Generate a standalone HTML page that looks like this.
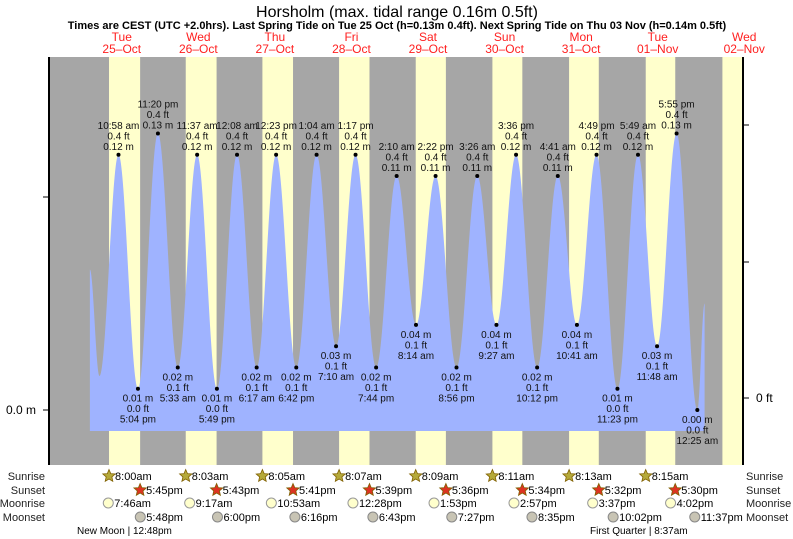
<!DOCTYPE html>
<html><head><meta charset="utf-8"><style>
body{margin:0;background:#fff;}
svg{display:block;font-family:"Liberation Sans",sans-serif;}
</style></head><body>
<svg id="chart" width="793" height="539" viewBox="0 0 793 539">
<text x="397" y="17" text-anchor="middle" font-size="16">Horsholm (max. tidal range 0.16m 0.5ft)</text>
<text x="397" y="29" text-anchor="middle" font-size="11" font-weight="bold">Times are CEST (UTC +2.0hrs). Last Spring Tide on Tue 25 Oct (h=0.13m 0.4ft). Next Spring Tide on Thu 03 Nov (h=0.14m 0.5ft)</text>
<g id="bg"></g><g id="tide"></g><g id="labels"></g><g id="axes"></g><g id="bottom"></g>
</svg>
<script>
const dayNames=["Tue","Wed","Thu","Fri","Sat","Sun","Mon","Tue","Wed"];
const dayDates=["25\u2013Oct","26\u2013Oct","27\u2013Oct","28\u2013Oct","29\u2013Oct","30\u2013Oct","31\u2013Oct","01\u2013Nov","02\u2013Nov"];
const sunriseH=[8.0,8.05,8.083,8.117,8.15,8.183,8.217,8.25,8.283];
const sunsetH=[17.75,17.717,17.683,17.65,17.6,17.567,17.533,17.5,17.467];
const sunriseTxt=["8:00am","8:03am","8:05am","8:07am","8:09am","8:11am","8:13am","8:15am"];
const sunsetTxt=["5:45pm","5:43pm","5:41pm","5:39pm","5:36pm","5:34pm","5:32pm","5:30pm"];
const moonriseH=[7.767,9.283,10.883,12.467,13.883,14.95,15.617,16.033];
const moonriseTxt=["7:46am","9:17am","10:53am","12:28pm","1:53pm","2:57pm","3:37pm","4:02pm"];
const moonsetH=[17.8,18.0,18.267,18.717,19.45,20.583,22.033,23.617];
const moonsetTxt=["5:48pm","6:00pm","6:16pm","6:43pm","7:27pm","8:35pm","10:02pm","11:37pm"];
// tide extremes: hours since Tue 00:00, height m
const tideT=[2.0,5.0,10.97,17.07,23.33,29.55,35.62,41.82,48.13,54.28,60.38,66.7,73.07,79.17,85.28,91.73,98.17,104.23,110.37,116.93,123.43,129.45,135.6,142.2,148.68,154.68,160.82,167.38,173.82,179.8,185.92,192.42,194.7];
const tideH=[0.066,0.016,0.12,0.01,0.13,0.02,0.12,0.01,0.12,0.02,0.12,0.02,0.12,0.03,0.12,0.02,0.11,0.04,0.11,0.02,0.11,0.04,0.12,0.02,0.11,0.04,0.12,0.01,0.12,0.03,0.13,0.0,0.05];
const tideTimeTxt=[null,null,"10:58 am","5:04 pm","11:20 pm","5:33 am","11:37 am","5:49 pm","12:08 am","6:17 am","12:23 pm","6:42 pm","1:04 am","7:10 am","1:17 pm","7:44 pm","2:10 am","8:14 am","2:22 pm","8:56 pm","3:26 am","9:27 am","3:36 pm","10:12 pm","4:41 am","10:41 am","4:49 pm","11:23 pm","5:49 am","11:48 am","5:55 pm","12:25 am",null];
const tideFtTxt=[null,null,"0.4 ft","0.0 ft","0.4 ft","0.1 ft","0.4 ft","0.0 ft","0.4 ft","0.1 ft","0.4 ft","0.1 ft","0.4 ft","0.1 ft","0.4 ft","0.1 ft","0.4 ft","0.1 ft","0.4 ft","0.1 ft","0.4 ft","0.1 ft","0.4 ft","0.1 ft","0.4 ft","0.1 ft","0.4 ft","0.0 ft","0.4 ft","0.1 ft","0.4 ft","0.0 ft",null];

const NS="http://www.w3.org/2000/svg";
const X0=83.5,PXH=3.19;
const x=t=>X0+t*PXH;
const y=h=>410-h*2127;
const PT=57,PB=465,PL=49,PR=743;
function mk(tag,attrs,parent,txt){const e=document.createElementNS(NS,tag);for(const k in attrs)e.setAttribute(k,attrs[k]);if(txt!=null)e.textContent=txt;parent.appendChild(e);return e;}
const bg=document.getElementById('bg'),tide=document.getElementById('tide'),lab=document.getElementById('labels'),ax=document.getElementById('axes'),bot=document.getElementById('bottom');

let r=mk('rect',{x:PL,y:PT,width:PR-PL,height:PB-PT,fill:'#a6a6a6'},bg);


for(let d=0;d<9;d++){
  const x1=x(d*24+sunriseH[d]),x2=Math.min(x(d*24+sunsetH[d]),PR);
  const b=mk('rect',{x:x1,y:PT,width:Math.max(0,x2-x1),height:PB-PT,fill:'#ffffcc'},bg);
  
  
  const cx=x(d*24+12)+(d==8?10:0);
  const t1=mk('text',{x:cx,y:41,'text-anchor':'middle','font-size':12,fill:'#ff2020'},bg,dayNames[d]);
  
  
  const t2=mk('text',{x:cx,y:53,'text-anchor':'middle','font-size':12,fill:'#ff2020'},bg,dayDates[d]);
  
  
}
// tide curve
function shape(u){return 0.5-0.5*Math.cos(Math.PI*u);}
let d='M'+x(tideT[0])+' 431';
for(let i=0;i<tideT.length-1;i++){
  const t0=tideT[i],t1=tideT[i+1],h0=tideH[i],h1=tideH[i+1];
  for(let k=0;k<=40;k++){const u=k/40;const v=h0+(h1-h0)*shape(u);d+=' L'+x(t0+(t1-t0)*u).toFixed(2)+' '+y(v).toFixed(2);}
}
d+=' L'+x(tideT[tideT.length-1])+' 431 Z';
const p=mk('path',{d:d,fill:'#9fb3ff'},tide);


for(let i=0;i<tideT.length;i++){
  if(!tideTimeTxt[i])continue;
  const px=x(tideT[i]),py=y(tideH[i]);const high=tideH[i]>0.07;
  const dot=mk('circle',{cx:px,cy:py,r:2,fill:'#000'},lab);
  
  
  const lines=high?[tideTimeTxt[i],tideFtTxt[i],tideH[i].toFixed(2)+' m']:[tideH[i].toFixed(2)+' m',tideFtTxt[i],tideTimeTxt[i]];
  const base=high?py-26:py+13;
  for(let j=0;j<3;j++){
    const tt=mk('text',{x:px,y:base+j*10.5,'text-anchor':'middle','font-size':10,fill:'#111'},lab,lines[j]);
    
    
  }
}
// axes
mk('line',{x1:PL,y1:PT,x2:PL,y2:PB,stroke:'#000','stroke-width':2},ax);
mk('line',{x1:PR,y1:PT,x2:PR,y2:PB,stroke:'#000','stroke-width':2},ax);
[410,197].forEach(v=>mk('line',{x1:PL-6,y1:v,x2:PL,y2:v,stroke:'#000'},ax));
[398,262,125].forEach(v=>mk('line',{x1:PR,y1:v,x2:PR+6,y2:v,stroke:'#000'},ax));
let yl=mk('text',{x:36,y:414,'text-anchor':'end','font-size':12},ax,'0.0 m');


let yr=mk('text',{x:756,y:402,'font-size':12},ax,'0 ft');


// bottom rows
const rows=[['Sunrise',480],['Sunset',494],['Moonrise',507],['Moonset',521]];
rows.forEach(rw=>{
  const a=mk('text',{x:45,y:rw[1],'text-anchor':'end','font-size':11,fill:'#222'},bot,rw[0]);
  
  
  const b=mk('text',{x:746,y:rw[1],'font-size':11,fill:'#222'},bot,rw[0]);
  
  
});
function star(cx,cy,fill){let pts=[];for(let i=0;i<10;i++){const a=-Math.PI/2+i*Math.PI/5,rr=i%2?3:6.5;pts.push((cx+rr*Math.cos(a)).toFixed(1)+','+(cy+rr*Math.sin(a)).toFixed(1));}return mk('polygon',{points:pts.join(' '),fill:fill,stroke:'#806000','stroke-width':0.8},bot);}
for(let i=0;i<8;i++){
  let sx=x(i*24+sunriseH[i]);
  let s=star(sx,476,'#b5a93a');
  
  
  let t=mk('text',{x:sx+6,y:480,'font-size':11},bot,sunriseTxt[i]);
  
  
  let ssx=x(i*24+sunsetH[i]);
  s=star(ssx,490,'#dd3322');
  
  
  t=mk('text',{x:ssx+6,y:494,'font-size':11},bot,sunsetTxt[i]);
  
  
  let mx=x(i*24+moonriseH[i]);
  let c=mk('circle',{cx:mx,cy:503,r:5,fill:'#ffffcc',stroke:'#999'},bot);
  
  
  t=mk('text',{x:mx+6,y:507,'font-size':11},bot,moonriseTxt[i]);
  
  
  let ox=x(i*24+moonsetH[i]);
  c=mk('circle',{cx:ox,cy:517,r:5,fill:'#c8c4b4',stroke:'#888'},bot);
  
  
  t=mk('text',{x:ox+6,y:521,'font-size':11},bot,moonsetTxt[i]);
  
  
}
let m1=mk('text',{x:77,y:534,'font-size':10},bot,'New Moon | 12:48pm');


let m2=mk('text',{x:590,y:534,'font-size':10},bot,'First Quarter | 8:37am');


</script>
</body></html>
